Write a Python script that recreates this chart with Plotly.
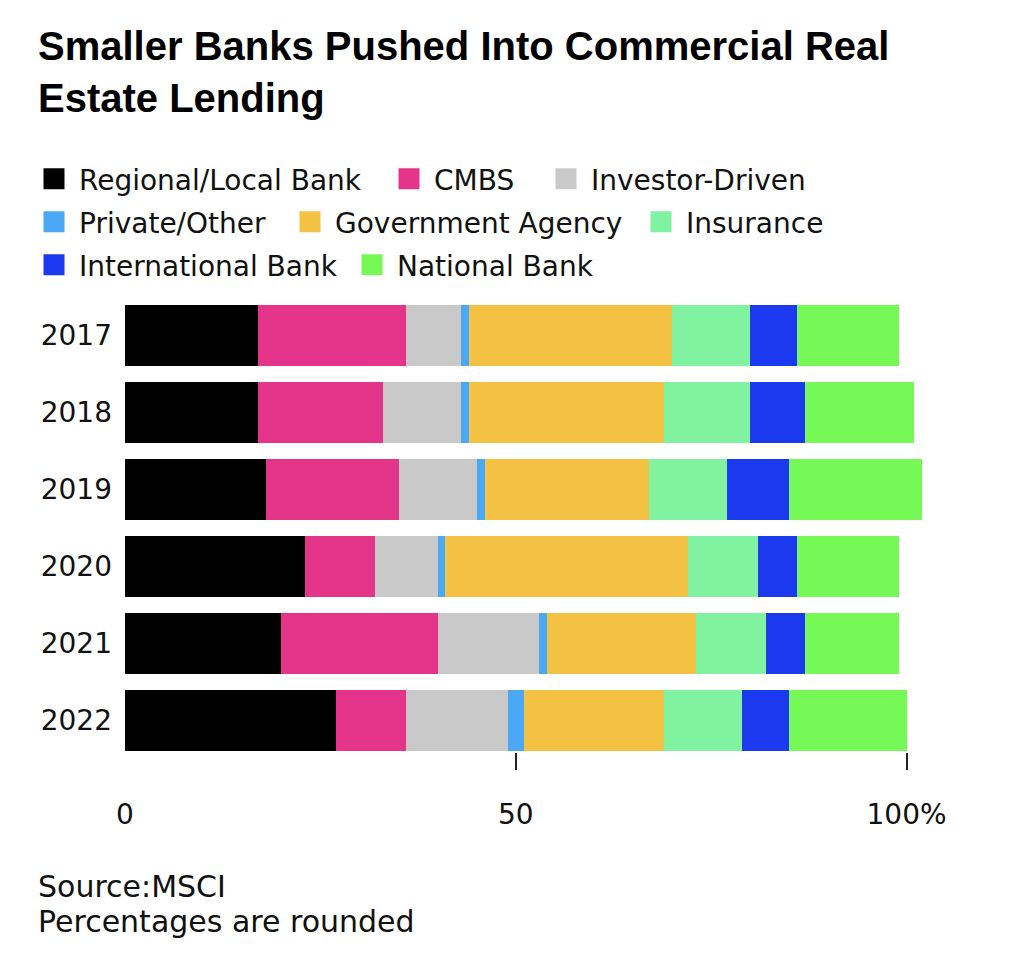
import plotly.graph_objects as go

# ---------------- data ----------------
years = ["2017", "2018", "2019", "2020", "2021", "2022"]
regional_local_bank = [17, 17, 18, 23, 20, 27]
cmbs = [19, 16, 17, 9, 20, 9]
investor_driven = [7, 10, 10, 8, 13, 13]
private_other = [1, 1, 1, 1, 1, 2]
government_agency = [26, 25, 21, 31, 19, 18]
insurance = [10, 11, 10, 9, 9, 10]
international_bank = [6, 7, 8, 5, 5, 6]
national_bank = [13, 14, 17, 13, 12, 15]

series_names = ["Regional/Local Bank", "CMBS", "Investor-Driven", "Private/Other",
                "Government Agency", "Insurance", "International Bank", "National Bank"]
series_values = [regional_local_bank, cmbs, investor_driven, private_other,
                 government_agency, insurance, international_bank, national_bank]
series_colors = ["#000000", "#E5358A", "#C9C9C9", "#4BA8F4",
                 "#F4C243", "#81F29F", "#1B3AF0", "#76F957"]

x_tick_values = [0, 50, 100]
x_tick_labels = ["0", "50", "100%"]
x_tick_marks = [50, 100]

title_text = "Smaller Banks Pushed Into Commercial Real<br>Estate Lending"
source_text = "Source:MSCI"
note_text = "Percentages are rounded"

# ---------------- layout geometry ----------------
W, H = 1024, 980
M_L, M_T = 125, 297
PLOT_W, PLOT_H = 805, 455
M_R = W - M_L - PLOT_W
M_B = H - M_T - PLOT_H
X_MAX = 103

BODY_FONT = "DejaVu Sans, Verdana, sans-serif"
TITLE_FONT = "Liberation Sans, Arial, Helvetica, sans-serif"
INK = "#111111"


def px_x(px):
    return (px - M_L) / PLOT_W


def px_y(py):
    return (M_T + PLOT_H - py) / PLOT_H


legend_ids = ["legend", "legend", "legend", "legend2", "legend2", "legend2", "legend3", "legend3"]
legend_item_widths = [300, 102, None, 201, 296, None, 263, None]
legend_row_centers = {"legend": 179, "legend2": 222, "legend3": 265}

fig = go.Figure()

# stacked bars
for name, vals, col in zip(series_names, series_values, series_colors):
    fig.add_trace(go.Bar(
        y=years, x=vals, name=name, orientation="h",
        marker=dict(color=col, line=dict(width=0)),
        showlegend=False,
        hovertemplate="%{y}: %{x}%<extra>" + name + "</extra>",
    ))

# legend entries (square swatches)
for name, col, lg, lw in zip(series_names, series_colors, legend_ids, legend_item_widths):
    kw = dict(legendwidth=lw) if lw else {}
    fig.add_trace(go.Scatter(
        x=[None], y=[None], mode="markers", name=name,
        marker=dict(symbol="square", size=16, color=col, line=dict(color=col, width=5)),
        legend=lg, showlegend=True, hoverinfo="skip", **kw,
    ))

legend_common = dict(
    orientation="h",
    font=dict(family=BODY_FONT, size=28, color=INK),
    bgcolor="rgba(0,0,0,0)",
    xanchor="left",
    yanchor="middle",
    itemwidth=40,
    traceorder="normal",
    x=px_x(29),
)

fig.update_layout(
    width=W, height=H,
    margin=dict(l=M_L, r=M_R, t=M_T, b=M_B, pad=0, autoexpand=False),
    paper_bgcolor="white", plot_bgcolor="white",
    barmode="stack", bargap=0.2,
    title=dict(
        text=title_text, x=38 / W, xref="container", xanchor="left",
        y=1 - 60 / H, yref="container", yanchor="top",
        font=dict(family=TITLE_FONT, size=40, color="#000000", weight=700),
    ),
    legend=dict(**legend_common, y=px_y(legend_row_centers["legend"])),
    legend2=dict(**legend_common, y=px_y(legend_row_centers["legend2"])),
    legend3=dict(**legend_common, y=px_y(legend_row_centers["legend3"])),
    xaxis=dict(
        range=[0, X_MAX], tickmode="array", tickvals=x_tick_values, ticktext=x_tick_labels,
        ticks="inside", ticklen=0, showgrid=False, zeroline=False, showline=False,
        tickfont=dict(family=BODY_FONT, size=28, color=INK),
        ticklabelstandoff=43,
        minor=dict(tickmode="array", tickvals=x_tick_marks, ticks="outside",
                   ticklen=17, tickwidth=2, tickcolor="#222222", showgrid=False),
        fixedrange=True,
    ),
    yaxis=dict(
        type="category", categoryorder="array", categoryarray=years,
        range=[5.41, -0.5], ticks="", showgrid=False, zeroline=False, showline=False,
        tickfont=dict(family=BODY_FONT, size=28, color=INK),
        ticklabelstandoff=12, fixedrange=True,
    ),
    annotations=[
        dict(text=source_text, xref="paper", yref="paper", x=px_x(36), y=px_y(886),
             xanchor="left", yanchor="middle", showarrow=False,
             font=dict(family=BODY_FONT, size=30, color=INK)),
        dict(text=note_text, xref="paper", yref="paper", x=px_x(36), y=px_y(921),
             xanchor="left", yanchor="middle", showarrow=False,
             font=dict(family=BODY_FONT, size=30, color=INK)),
    ],
)

fig.write_html("out.html", config={"displayModeBar": False},
               post_script="document.body.style.margin='0';")
